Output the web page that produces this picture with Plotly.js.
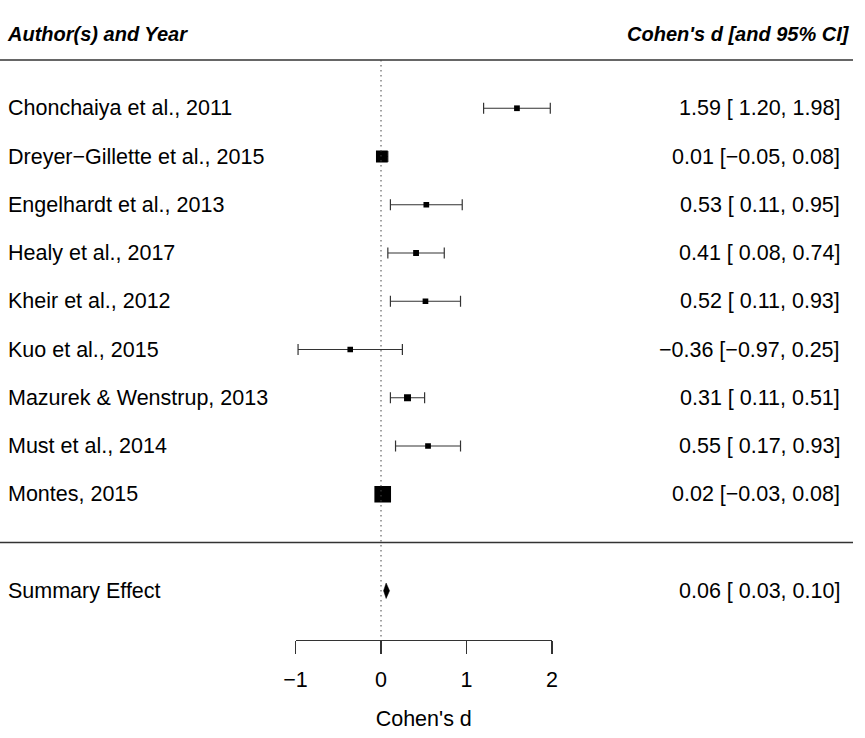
<!DOCTYPE html>
<html><head><meta charset="utf-8">
<script src="https://cdn.plot.ly/plotly-3.0.1.min.js"></script>
<style>html,body{margin:0;padding:0;background:#fff}</style>
</head><body><div id="chart" style="width:865px;height:738px"></div>
<script>
// ---- data ----
const studies = ["Chonchaiya et al., 2011", "Dreyer\u2212Gillette et al., 2015", "Engelhardt et al., 2013",
  "Healy et al., 2017", "Kheir et al., 2012", "Kuo et al., 2015", "Mazurek & Wenstrup, 2013",
  "Must et al., 2014", "Montes, 2015"];
const estimates = [1.59, 0.01, 0.53, 0.41, 0.52, -0.36, 0.31, 0.55, 0.02];
const ciLower   = [1.20, -0.05, 0.11, 0.08, 0.11, -0.97, 0.11, 0.17, -0.03];
const ciUpper   = [1.98, 0.08, 0.95, 0.74, 0.93, 0.25, 0.51, 0.93, 0.08];
const weights   = [1.4, 30.5, 1.2, 1.9, 1.2, 0.6, 7.4, 1.5, 54.0];   // % weights (estimated)
const summaryLabel = "Summary Effect";
const summaryEstimate = [0.06];
const summaryLower = [0.03];
const summaryUpper = [0.10];
const xTickValues = [-1, 0, 1, 2];
const xTickLabels = ["\u22121", "0", "1", "2"];
const headerLeft = "Author(s) and Year";
const headerRight = "Cohen's d [and 95% CI]";
const xAxisTitle = "Cohen's d";

// ---- layout helpers ----
const W = 865, H = 738, B = 98;
const n = studies.length;
const rows = studies.map((s, i) => n - i);        // 9 .. 1
const summaryRow = -1;
const topRow = n + 1;
const rowPx = 48.25, sepPx = 542.5, plotH = H - B;
const yRange = [(sepPx - plotH) / rowPx, sepPx / rowPx];
const headerRow = (sepPx - 34) / rowPx;

const fmt = v => (v < 0 ? "\u2212" : "") + Math.abs(v).toFixed(2);
const anyNegLo = ciLower.concat(summaryLower).some(v => v < 0);
const anyNegHi = ciUpper.concat(summaryUpper).some(v => v < 0);
const pad = (v, anyNeg) => (anyNeg && v >= 0 ? " " : "") + fmt(v);
const ciText = (e, l, u) => fmt(e) + " [" + pad(l, anyNegLo) + ", " + pad(u, anyNegHi) + "]";

const wMin = Math.min(...weights), wMax = Math.max(...weights);
const psize = weights.map(w => (w - wMin) / (wMax - wMin) + 0.5);
const sizes = psize.map(p => p * 11.1);

const FONT = "Liberation Sans, Arial, Helvetica, sans-serif";
const fs = 21.5;
const LX = 7.5 / W, RX = 839.5 / W, LHX = 6.5 / W, RHX = 850 / W;

const traces = [
  { // confidence intervals
    type: "scatter", mode: "markers", x: estimates, y: rows,
    marker: {size: 1, color: "rgba(0,0,0,0)"},
    error_x: {type: "data", symmetric: false,
      array: ciUpper.map((u, i) => u - estimates[i]),
      arrayminus: ciLower.map((l, i) => estimates[i] - l),
      color: "#333", thickness: 1.2, width: 5.5},
    hoverinfo: "skip", showlegend: false
  },
  { // point estimates
    type: "scatter", mode: "markers", x: estimates, y: rows,
    marker: {symbol: "square", size: sizes, color: "#000", opacity: 1, line: {width: 0}},
    hoverinfo: "skip", showlegend: false
  },
  { // summary diamond
    type: "scatter", mode: "lines",
    x: [summaryLower[0], summaryEstimate[0], summaryUpper[0], summaryEstimate[0], summaryLower[0]],
    y: [summaryRow, summaryRow + 0.16, summaryRow, summaryRow - 0.16, summaryRow],
    fill: "toself", fillcolor: "#000", line: {color: "#000", width: 0.5},
    hoverinfo: "skip", showlegend: false
  }
];

const txt = (x, y, text, anchor, size) => ({xref: "paper", yref: "y", x: x, y: y, text: text,
  showarrow: false, xanchor: anchor, yanchor: "middle", borderpad: 0, borderwidth: 0,
  font: {family: FONT, size: size, color: "#000"}});

const annotations = [];
studies.forEach((s, i) => {
  annotations.push(txt(LX, rows[i], s, "left", fs));
  annotations.push(txt(RX, rows[i], ciText(estimates[i], ciLower[i], ciUpper[i]), "right", fs));
});
annotations.push(txt(LX, summaryRow, summaryLabel, "left", fs));
annotations.push(txt(RX, summaryRow, ciText(summaryEstimate[0], summaryLower[0], summaryUpper[0]), "right", fs));
annotations.push(txt(LHX, headerRow, "<b><i>" + headerLeft + "</i></b>", "left", 20));
annotations.push(txt(RHX, headerRow, "<b><i>" + headerRight + "</i></b>", "right", 20));

const shapes = [
  {type: "line", xref: "paper", yref: "y", x0: 0, x1: 853 / W, y0: topRow, y1: topRow,
    line: {color: "#333", width: 1.6}},
  {type: "line", xref: "paper", yref: "y", x0: 0, x1: 853 / W, y0: 0, y1: 0,
    line: {color: "#333", width: 1.6}},
  {type: "line", xref: "x", yref: "y", x0: 0, x1: 0, y0: topRow, y1: yRange[0],
    line: {color: "#444", width: 1, dash: "1.5px,3.5px"}}
];

const layout = {
  width: W, height: H,
  margin: {l: 0, r: 0, t: 0, b: B, pad: 0},
  paper_bgcolor: "#fff", plot_bgcolor: "rgba(0,0,0,0)",
  font: {family: FONT, color: "#000"},
  showlegend: false,
  xaxis: {
    domain: [295.5 / W, 552 / W], range: [-1, 2], anchor: "y",
    showline: true, linecolor: "#333", linewidth: 1.2,
    ticks: "outside", ticklen: 12.5, tickwidth: 1.2, tickcolor: "#333",
    ticklabelstandoff: 7,
    tickvals: xTickValues, ticktext: xTickLabels,
    tickfont: {family: FONT, size: fs, color: "#000"},
    showgrid: false, zeroline: false, fixedrange: true,
    title: {text: xAxisTitle, font: {family: FONT, size: fs, color: "#000"}, standoff: 20}
  },
  yaxis: {domain: [0, 1], range: yRange, visible: false, showgrid: false, zeroline: false, fixedrange: true},
  annotations: annotations,
  shapes: shapes
};

Plotly.newPlot("chart", traces, layout, {displayModeBar: false, staticPlot: true});
</script>
</body></html>
